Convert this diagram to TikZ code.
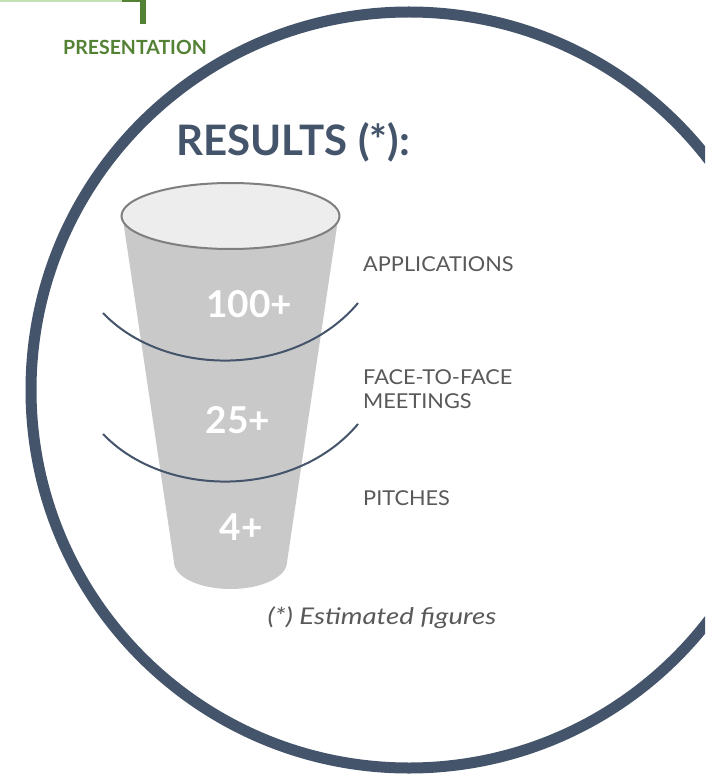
\documentclass[tikz,border=0pt]{standalone}
\usepackage{fontspec}
\setmainfont{Lato}
\definecolor{navy}{HTML}{44546A}
\definecolor{dgreen}{HTML}{548235}
\definecolor{lgreen}{HTML}{C5E0B4}
\definecolor{funnelgray}{HTML}{C9C9C9}
\definecolor{topgray}{HTML}{EDEDED}
\definecolor{rimgray}{HTML}{7F7F7F}
\definecolor{labelgray}{HTML}{595959}
\tikzset{
  stagelabel/.style={anchor=base west, inner sep=0pt, text=labelgray, font=\fontsize{20.5}{24}\selectfont, align=left, xscale=1.06},
  bignum/.style={anchor=base, inner sep=0pt, text=white, font=\fontsize{37}{40}\selectfont\bfseries},
  divider/.style={draw=navy, line width=2pt},
}
\begin{document}
\begin{tikzpicture}[x=1pt,y=-1pt]
\clip (0,0) rectangle (705,775);
\fill[white] (0,0) rectangle (705,775);
% top-left green marks
\draw[lgreen, line width=2.5pt] (0,1) -- (124,1);
\draw[dgreen, line width=2.5pt] (122,1) -- (146,1);
\draw[dgreen, line width=5.5pt] (143,0) -- (143,24);
\node[anchor=base, inner sep=0pt, text=dgreen, font=\fontsize{19.5}{20}\selectfont\bfseries] (pres) at (135,55) {PRESENTATION};
% big circle
\draw[navy, line width=11pt] (409,390) circle[radius=378];
% title
\node[anchor=base, inner sep=0pt, text=navy, font=\fontsize{42}{44}\selectfont\bfseries] (title) at (293,156) {RESULTS (*):};
% funnel body
\fill[funnelgray] (122,213) -- (174,562) arc[start angle=180, end angle=0, x radius=56.5, y radius=27] -- (339,213) -- cycle;
% funnel top
\draw[rimgray, fill=topgray, line width=2pt] (230.5,216) ellipse[x radius=109, y radius=33];
% dividers
\draw[divider] (103,313) .. controls (165,378) and (295,378) .. (358,303);
\draw[divider] (103,434) .. controls (165,499) and (295,499) .. (358,424);
% numbers
\node[bignum] (n100) at (249,317) {100+};
\node[bignum] (n25) at (238,433) {25+};
\node[bignum] (n4) at (241,540) {4+};
% labels
\node[stagelabel] (lapp) at (363,272) {APPLICATIONS};
\node[stagelabel] (lftf) at (363,408) {FACE-TO-FACE\\MEETINGS};
\node[stagelabel] (lpit) at (363,505) {PITCHES};
% note
\node[anchor=base, inner sep=0pt, text=labelgray, font=\fontsize{23}{25}\selectfont\itshape, xscale=1.2] (note) at (382,624) {(*) Estimated figures};
\end{tikzpicture}
\end{document}
